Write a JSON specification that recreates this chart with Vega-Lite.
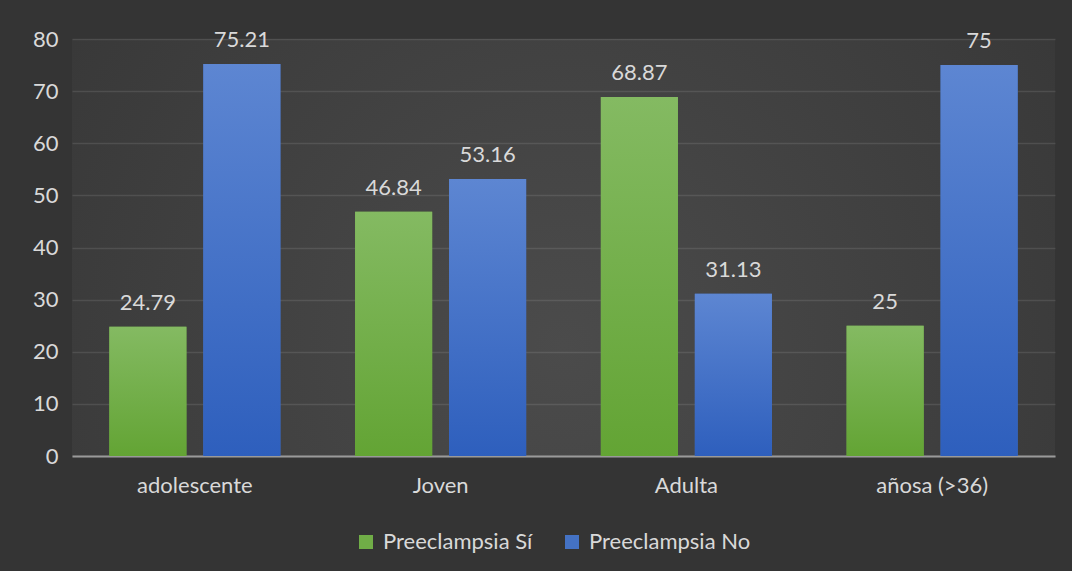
{
  "$schema": "https://vega.github.io/schema/vega-lite/v6.json",
  "width": 983,
  "height": 417,
  "autosize": {"type": "none"},
  "padding": {"left": 72, "top": 39, "right": 17, "bottom": 115},
  "background": "#343434",
  "config": {
    "view": {
      "stroke": null,
      "fill": {
        "gradient": "radial",
        "x1": 0.5, "y1": 0.6, "r1": 0,
        "x2": 0.5, "y2": 0.6, "r2": 0.75,
        "stops": [
          {"offset": 0, "color": "#4b4b4b"},
          {"offset": 1, "color": "#343434"}
        ]
      }
    },
    "font": "Lato",
    "axis": {"labelFont": "Lato", "labelColor": "#d9d9d9", "labelFontSize": 22},
    "legend": {"labelFont": "Lato", "labelColor": "#d9d9d9", "labelFontSize": 22, "labelLimit": 400}
  },
  "data": {
    "values": [
      {"grupo": "adolescente", "serie": "Preeclampsia Sí", "valor": 24.79},
      {"grupo": "adolescente", "serie": "Preeclampsia No", "valor": 75.21},
      {"grupo": "Joven", "serie": "Preeclampsia Sí", "valor": 46.84},
      {"grupo": "Joven", "serie": "Preeclampsia No", "valor": 53.16},
      {"grupo": "Adulta", "serie": "Preeclampsia Sí", "valor": 68.87},
      {"grupo": "Adulta", "serie": "Preeclampsia No", "valor": 31.13},
      {"grupo": "añosa (>36)", "serie": "Preeclampsia Sí", "valor": 25},
      {"grupo": "añosa (>36)", "serie": "Preeclampsia No", "valor": 75}
    ]
  },
  "encoding": {
    "x": {
      "field": "grupo",
      "type": "nominal",
      "sort": ["adolescente", "Joven", "Adulta", "añosa (>36)"],
      "scale": {"paddingInner": 0.304, "paddingOuter": 0.152},
      "axis": {
        "title": null,
        "labelAngle": 0,
        "ticks": false,
        "domain": true,
        "domainColor": "#9a9a9a",
        "domainWidth": 2,
        "labelPadding": 19,
        "grid": false
      }
    },
    "xOffset": {
      "field": "serie",
      "type": "nominal",
      "scale": {"domain": ["Preeclampsia Sí", "Preeclampsia No"], "paddingInner": 0.18, "paddingOuter": 0}
    },
    "y": {
      "field": "valor",
      "type": "quantitative",
      "scale": {"domain": [0, 80], "nice": false},
      "axis": {
        "title": null,
        "values": [0, 10, 20, 30, 40, 50, 60, 70, 80],
        "ticks": false,
        "domain": false,
        "labelPadding": 14,
        "gridColor": "#ffffff",
        "gridOpacity": 0.1,
        "gridWidth": 1.5
      }
    }
  },
  "layer": [
    {
      "mark": {"type": "bar"},
      "encoding": {
        "color": {
          "field": "serie",
          "type": "nominal",
          "scale": {"domain": ["Preeclampsia Sí", "Preeclampsia No"], "range": ["#70ad47", "#4472c4"]},
          "legend": {
            "title": null,
            "orient": "none",
            "legendX": 283,
            "legendY": 492,
            "direction": "horizontal",
            "symbolType": "square",
            "symbolSize": 196,
            "symbolStrokeWidth": 0,
            "labelOffset": 6,
            "labelLimit": 400,
            "columnPadding": 28
          }
        }
      }
    },
    {
      "transform": [{"filter": "datum.serie === 'Preeclampsia Sí'"}],
      "mark": {
        "type": "bar",
        "color": {
          "gradient": "linear", "x1": 0, "y1": 0, "x2": 0, "y2": 1,
          "stops": [{"offset": 0, "color": "#84ba62"}, {"offset": 1, "color": "#63a434"}]
        }
      }
    },
    {
      "transform": [{"filter": "datum.serie === 'Preeclampsia No'"}],
      "mark": {
        "type": "bar",
        "color": {
          "gradient": "linear", "x1": 0, "y1": 0, "x2": 0, "y2": 1,
          "stops": [{"offset": 0, "color": "#5d86d2"}, {"offset": 1, "color": "#2e5fbd"}]
        }
      }
    },
    {
      "mark": {"type": "text", "baseline": "alphabetic", "dy": -17, "fontSize": 22, "color": "#d9d9d9", "font": "Lato"},
      "encoding": {
        "text": {"field": "valor", "type": "quantitative", "format": "~g"}
      }
    }
  ]
}
